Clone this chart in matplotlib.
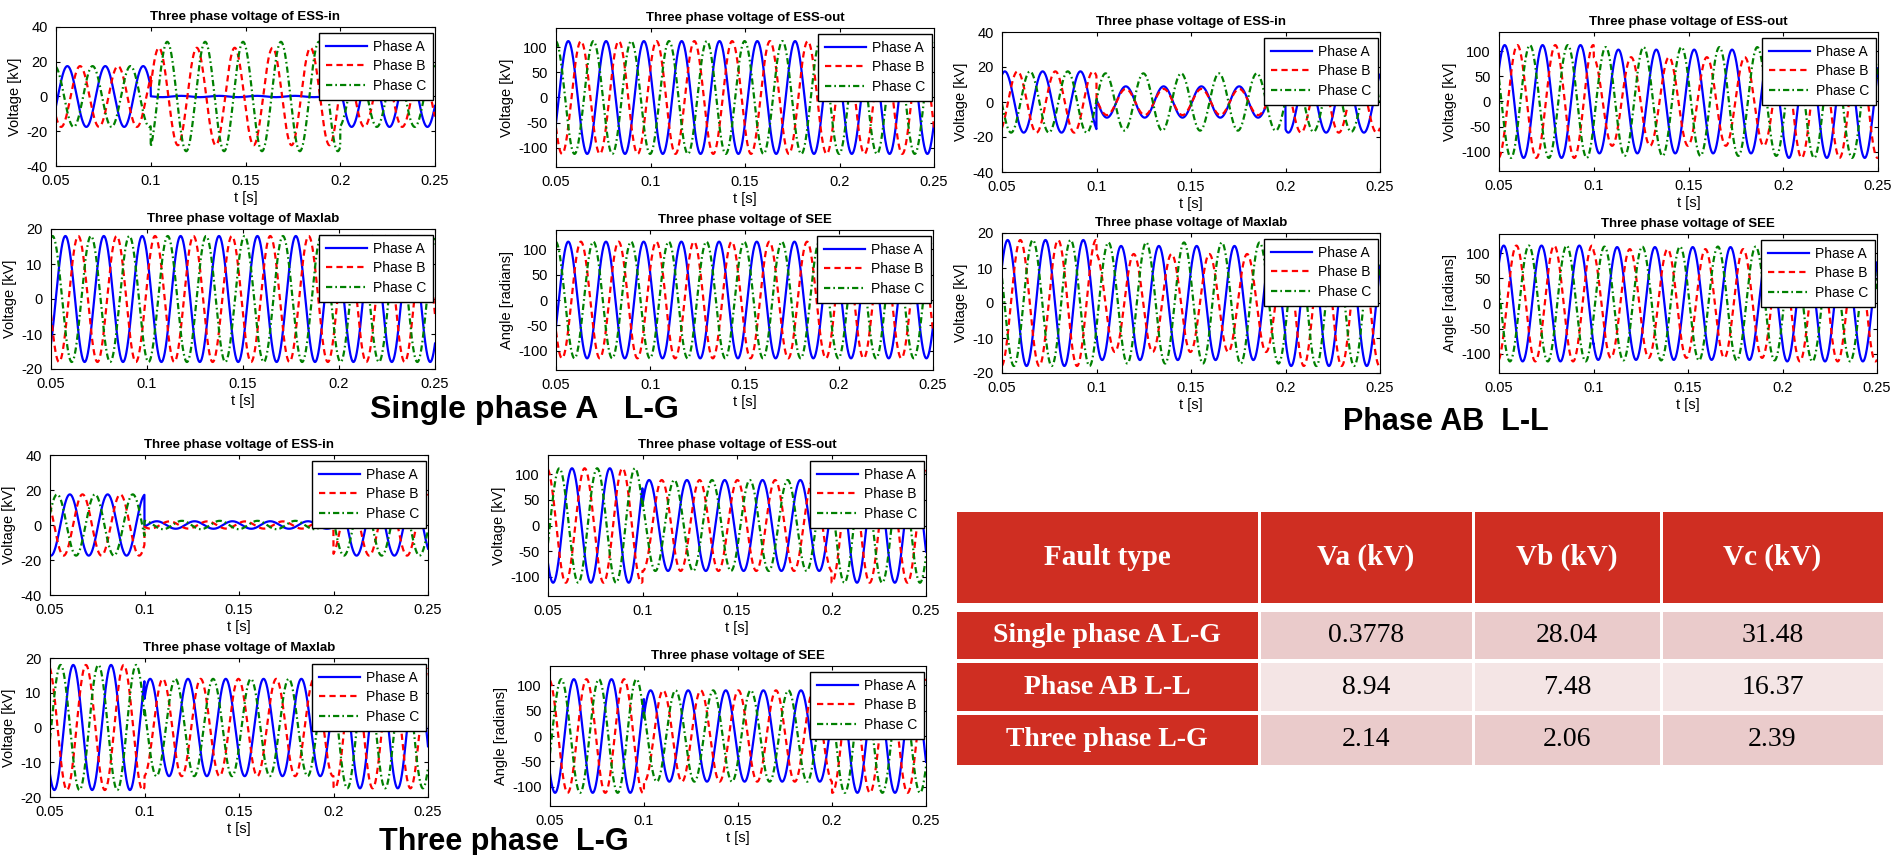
import numpy as np
import matplotlib.pyplot as plt
from matplotlib.patches import Rectangle

plt.rcParams['font.family'] = ['Liberation Sans', 'DejaVu Sans']
plt.rcParams['axes.unicode_minus'] = False
plt.rcParams['lines.scale_dashes'] = False

W, H = 1891, 855

# ---- table data ----
fault_types = ['Single phase A L-G', 'Phase AB L-L', 'Three phase L-G']
col_heads = ['Fault type', 'Va (kV)', 'Vb (kV)', 'Vc (kV)']
va = [0.3778, 8.94, 2.14]
vb = [28.04, 7.48, 2.06]
vc = [31.48, 16.37, 2.39]

# ---- waveform data: per phase (A, B, C), per interval (pre-fault, fault, post-fault) ----
f_hz = 50
fault_on, fault_off = 0.1, 0.2
phase_names = ['Phase A', 'Phase B', 'Phase C']

# Single phase A L-G
g1_essin_amp = [[17.5, va[0], 17.5], [17.5, vb[0], 17.5], [17.5, vc[0], 17.5]]
g1_essin_pk = [[0.056, 0.056, 0.056], [0.0627, 0.1043, 0.0627], [0.0693, 0.1087, 0.0693]]
g1_essout_amp = [[112, 112, 112], [112, 112, 112], [112, 112, 112]]
g1_essout_pk = [[0.0565, 0.0565, 0.0565], [0.0632, 0.0632, 0.0632], [0.0698, 0.0698, 0.0698]]
g1_maxlab_amp = [[18, 18, 18], [18, 18, 18], [18, 18, 18]]
g1_maxlab_pk = [[0.0575, 0.0575, 0.0575], [0.0642, 0.0642, 0.0642], [0.0708, 0.0708, 0.0708]]
g1_see_amp = [[115, 115, 115], [115, 115, 115], [115, 115, 115]]
g1_see_pk = [[0.0565, 0.0565, 0.0565], [0.0632, 0.0632, 0.0632], [0.0698, 0.0698, 0.0698]]

# Phase AB L-L
g2_essin_amp = [[17.5, va[1], 17.5], [17.5, vb[1], 17.5], [17.5, vc[1], 17]]
g2_essin_pk = [[0.0515, 0.1155, 0.0515], [0.0582, 0.1155, 0.0582], [0.0648, 0.1248, 0.0648]]
g2_essout_amp = [[112, 103, 112], [112, 88, 112], [112, 108, 112]]
g2_essout_pk = [[0.053, 0.053, 0.053], [0.0597, 0.0597, 0.0597], [0.0663, 0.0663, 0.0663]]
g2_maxlab_amp = [[18, 16.3, 18], [18, 14, 18], [18, 17.3, 18]]
g2_maxlab_pk = [[0.053, 0.053, 0.053], [0.0597, 0.0597, 0.0597], [0.0663, 0.0663, 0.0663]]
g2_see_amp = [[115, 112, 115], [115, 108, 115], [115, 113, 115]]
g2_see_pk = [[0.0525, 0.0525, 0.0525], [0.0592, 0.0592, 0.0592], [0.0658, 0.0658, 0.0658]]

# Three phase L-G
g3_essin_amp = [[17.5, va[2], 17.5], [17.5, vb[2], 17.5], [17.5, vc[2], 17.5]]
g3_essin_pk = [[0.0605, 0.1065, 0.2022], [0.0672, 0.1132, 0.2089], [0.0738, 0.1198, 0.2155]]
g3_essout_amp = [[112, 89, 112], [112, 89, 112], [112, 89, 112]]
g3_essout_pk = [[0.0627, 0.1035, 0.2035], [0.0694, 0.1102, 0.2102], [0.076, 0.1168, 0.2168]]
g3_maxlab_amp = [[18, 14, 17.5], [18, 14, 17.5], [18, 14, 17.5]]
g3_maxlab_pk = [[0.0623, 0.103, 0.204], [0.069, 0.1097, 0.2107], [0.0756, 0.1163, 0.2173]]
g3_see_amp = [[112, 90, 112], [112, 90, 112], [112, 90, 112]]
g3_see_pk = [[0.0627, 0.1035, 0.2035], [0.0694, 0.1102, 0.2102], [0.076, 0.1168, 0.2168]]

t = np.linspace(0.05, 0.25, 4001)
seg = np.searchsorted([fault_on, fault_off], t, side='right')

styles = [dict(color='b', ls='-'),
          dict(color='r', ls=(0, (4.5, 3))),
          dict(color=(0, 0.5, 0), ls=(0, (4.5, 2.2, 1.2, 2.2)))]

fig = plt.figure(figsize=(W / 100, H / 100), dpi=100)


def panel(box, title, ylabel, kind, amp, pk):
    x0, y0, x1, y1 = box
    ax = fig.add_axes([x0 / W, 1 - y1 / H, (x1 - x0) / W, (y1 - y0) / H])
    for k in range(3):
        a = np.array(amp[k], dtype=float)[seg]
        p = np.array(pk[k])[seg]
        ax.plot(t, a * np.cos(2 * np.pi * f_hz * (t - p)), lw=1.6,
                label=phase_names[k], **styles[k])
    ax.set_xlim(0.05, 0.25)
    ax.set_xticks([0.05, 0.1, 0.15, 0.2, 0.25])
    ax.set_xticklabels(['0.05', '0.1', '0.15', '0.2', '0.25'])
    if kind == 'in':
        ax.set_ylim(-40, 40)
        ax.set_yticks([-40, -20, 0, 20, 40])
    elif kind == 'lab':
        ax.set_ylim(-20, 20)
        ax.set_yticks([-20, -10, 0, 10, 20])
    else:
        ax.set_ylim(-138, 138)
        ax.set_yticks([-100, -50, 0, 50, 100])
    ax.tick_params(direction='in', top=True, right=True, length=3, width=0.8,
                   labelsize=10.5, pad=6)
    for s in ax.spines.values():
        s.set_linewidth(0.8)
    ax.set_title(title, fontsize=9.5, fontweight='bold', pad=5)
    ax.set_xlabel('t [s]', fontsize=10.5, labelpad=2)
    ax.set_ylabel(ylabel, fontsize=10.5, labelpad=3)
    leg = ax.legend(loc='upper right', bbox_to_anchor=(0.995, 0.96), borderaxespad=0,
                    fontsize=10, handlelength=3.0, handletextpad=0.4,
                    labelspacing=0.4, borderpad=0.5, fancybox=False, framealpha=1,
                    edgecolor='black')
    leg.get_frame().set_linewidth(1.0)
    return ax


vlt = 'Voltage [kV]'
ang = 'Angle [radians]'

panel((56, 27, 435, 166), 'Three phase voltage of ESS-in', vlt, 'in', g1_essin_amp, g1_essin_pk)
panel((556, 28, 934, 167), 'Three phase voltage of ESS-out', vlt, 'out', g1_essout_amp, g1_essout_pk)
panel((51, 229, 435, 369), 'Three phase voltage of Maxlab', vlt, 'lab', g1_maxlab_amp, g1_maxlab_pk)
panel((556, 230, 933, 370), 'Three phase voltage of SEE', ang, 'out', g1_see_amp, g1_see_pk)

panel((1002, 32, 1380, 172), 'Three phase voltage of ESS-in', vlt, 'in', g2_essin_amp, g2_essin_pk)
panel((1499, 32, 1878, 171), 'Three phase voltage of ESS-out', vlt, 'out', g2_essout_amp, g2_essout_pk)
panel((1002, 233, 1380, 373), 'Three phase voltage of Maxlab', vlt, 'lab', g2_maxlab_amp, g2_maxlab_pk)
panel((1499, 234, 1877, 373), 'Three phase voltage of SEE', ang, 'out', g2_see_amp, g2_see_pk)

panel((50, 455, 428, 595), 'Three phase voltage of ESS-in', vlt, 'in', g3_essin_amp, g3_essin_pk)
panel((548, 455, 926, 596), 'Three phase voltage of ESS-out', vlt, 'out', g3_essout_amp, g3_essout_pk)
panel((50, 658, 428, 797), 'Three phase voltage of Maxlab', vlt, 'lab', g3_maxlab_amp, g3_maxlab_pk)
panel((550, 666, 926, 806), 'Three phase voltage of SEE', ang, 'out', g3_see_amp, g3_see_pk)

# captions
fig.text(524 / W, 1 - 410 / H, 'Single phase A   L-G', fontsize=23, fontweight='bold',
         ha='center', va='center')
fig.text(1446 / W, 1 - 422 / H, 'Phase AB  L-L', fontsize=22, fontweight='bold',
         ha='center', va='center')
fig.text(504 / W, 1 - 842 / H, 'Three phase  L-G', fontsize=22, fontweight='bold',
         ha='center', va='center')

# table
red = '#CF2E22'
pinks = ['#EACBCB', '#F4E5E5', '#EACBCB']
xe = [955, 1259, 1473, 1661, 1884]
ye = [(512, 603), (612, 659), (663, 711), (715, 765)]
g = 1.5


def cell(c, r, color, text, tcolor, size, weight):
    x0, x1 = xe[c] + g, xe[c + 1] - g
    y0, y1 = ye[r]
    fig.add_artist(Rectangle((x0 / W, 1 - y1 / H), (x1 - x0) / W, (y1 - y0) / H,
                             transform=fig.transFigure, facecolor=color, edgecolor='none'))
    fig.text((x0 + x1) / 2 / W, 1 - (y0 + y1) / 2 / H, text, color=tcolor, fontsize=size,
             fontweight=weight, ha='center', va='center', family='Liberation Serif')


for c, head in enumerate(col_heads):
    cell(c, 0, red, head, 'white', 21, 'bold')
for r in range(3):
    cell(0, r + 1, red, fault_types[r], 'white', 20, 'bold')
    for c, vals in enumerate([va, vb, vc]):
        cell(c + 1, r + 1, pinks[r], f'{vals[r]:g}', 'black', 20, 'normal')

fig.savefig('out.png', dpi=100)
